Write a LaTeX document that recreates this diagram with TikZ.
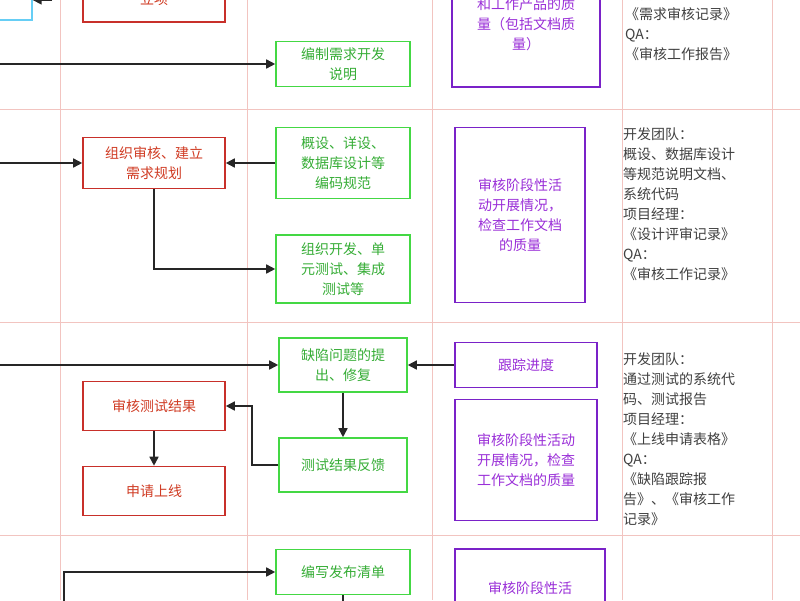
\documentclass[tikz,border=0pt]{standalone}
\usepackage{fontspec}
\setmainfont{Noto Sans CJK SC}
\usetikzlibrary{arrows.meta,positioning}
\definecolor{lanepink}{HTML}{F2C4C0}
\definecolor{redbox}{HTML}{C8302A}
\definecolor{greenbox}{HTML}{44D844}
\definecolor{purplebox}{HTML}{7A22C8}
\definecolor{purpletext}{HTML}{9A2FD8}
\begin{document}
\begin{tikzpicture}[x=1pt,y=-1pt,font=\fontsize{14}{20}\selectfont,
  lane/.style={draw=lanepink,line width=0.8pt},
  mgr/.style={draw=redbox,line width=1.6pt,text=redbox!85!orange,align=center,minimum width=142pt,inner sep=2pt},
  dev/.style={draw=greenbox,line width=1.6pt,text=greenbox!80!black,align=center,minimum width=134pt,inner sep=2pt},
  qa/.style={draw=purplebox,line width=1.6pt,text=purpletext,align=center,inner sep=2pt},
  outdoc/.style={text=black!75,align=left,anchor=north west,inner sep=0pt,font=\fontsize{14}{20}\selectfont},
  flow/.style={-{Triangle[length=9pt,width=9pt]},black!85,line width=1.6pt}]
  \useasboundingbox (0,0) rectangle (800,600);
  \clip (0,0) rectangle (800,600);
  \fill[white] (0,0) rectangle (800,600);

  % Lanes
  \foreach \x in {60,247,432,622,772} \draw[lane] (\x,0) -- (\x,600);
  \foreach \y in {109,322,535} \draw[lane] (0,\y) -- (800,\y);

  % Top band (cut off)
  \node[draw=cyan!60,line width=1.4pt,minimum width=60pt,minimum height=40pt] (prev) at (2,0) {};
  \coordinate (previn) at (52,0);
  \draw[flow] (previn) -- (prev.east);
  \node[mgr,minimum height=52pt] (approve) at (154,-4) {\\[-2pt]立项};
  \node[qa,minimum width=148pt,minimum height=128pt] (chk1) at (526,23) {\\[-6pt]和工作产品的质\\量（包括文档质\\量）};
  \node[outdoc] (doc1) at (625,-12) {项目经理：\\《需求审核记录》\\QA：\\《审核工作报告》};
  \node[dev,minimum height=45pt] (spec) at (343,64) {编制需求开发\\说明};
  \coordinate (in1) at (0,64);
  \draw[flow] (in1) -- (spec);

  % Design band
  \node[mgr,minimum height=51pt] (plan) at (154,163) {组织审核、建立\\需求规划};
  \node[dev,minimum height=71pt] (design) at (343,163) {概设、详设、\\数据库设计等\\编码规范};
  \node[dev,minimum height=68pt] (build) at (343,269) {组织开发、单\\元测试、集成\\测试等};
  \node[qa,minimum width=130pt,minimum height=175pt] (chk2) at (520,215) {审核阶段性活\\动开展情况，\\检查工作文档\\的质量};
  \node[outdoc] (doc2) at (623,127) {开发团队：\\概设、数据库设计\\等规范说明文档、\\系统代码\\项目经理：\\《设计评审记录》\\QA：\\《审核工作记录》};
  \coordinate (in2) at (0,163);
  \draw[flow] (in2) -- (plan);
  \draw[flow] (design) -- (plan);
  \draw[flow] (plan.south) |- (build.west);

  % Test band
  \node[dev,minimum width=128pt,minimum height=54pt] (defect) at (343,365) {缺陷问题的提\\出、修复};
  \node[qa,minimum width=142pt,minimum height=45pt] (track) at (526,365) {跟踪进度};
  \node[mgr,minimum height=49pt] (review) at (154,406) {审核测试结果};
  \node[dev,minimum width=128pt,minimum height=54pt] (feedback) at (343,465) {测试结果反馈};
  \node[mgr,minimum height=49pt] (release) at (154,491) {申请上线};
  \node[qa,minimum width=142pt,minimum height=121pt] (chk3) at (526,460) {审核阶段性活动\\开展情况，检查\\工作文档的质量};
  \node[outdoc] (doc3) at (623,352) {开发团队：\\通过测试的系统代\\码、测试报告\\项目经理：\\《上线申请表格》\\QA：\\《缺陷跟踪报\\告》、《审核工作\\记录》};
  \coordinate (in3) at (0,365);
  \draw[flow] (in3) -- (defect);
  \draw[flow] (track) -- (defect);
  \draw[flow] (defect) -- (feedback);
  \draw[flow] (feedback.west) -- (252,465) |- (review.east);
  \draw[flow] (review) -- (release);

  % Release band (cut off)
  \node[dev,minimum height=45pt] (list) at (343,572) {编写发布清单};
  \node[qa,minimum width=150pt,minimum height=100pt,anchor=north] (chk4) at (530,548) {\\[-10pt]审核阶段性活\\动开展情况};
  \coordinate (in4) at (64,610);
  \coordinate (out4) at (343,610);
  \draw[flow] (in4) |- (list.west);
  \draw[black!85,line width=1.6pt] (list.south) -- (out4);
\end{tikzpicture}
\end{document}
